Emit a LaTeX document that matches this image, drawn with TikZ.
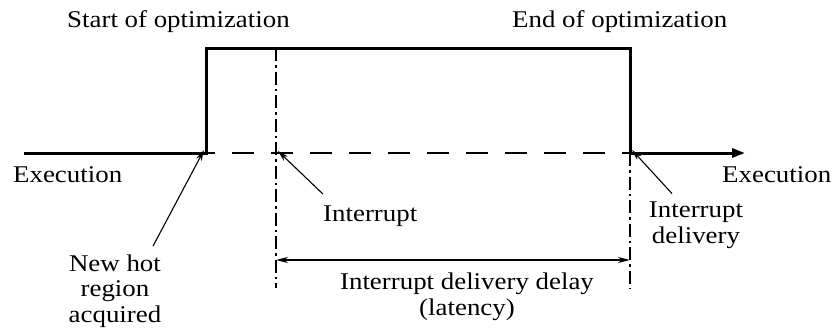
\documentclass[tikz,border=0pt]{standalone}
\usepackage{fontspec}
\setmainfont{Liberation Serif}[FakeStretch=1.12]
\usetikzlibrary{arrows.meta}

\begin{document}
\begin{tikzpicture}[x=1pt,y=-1pt,
  lbl/.style={font=\fontsize{24}{25.5}\selectfont, inner sep=0pt, align=center},
  wave/.style={line width=3pt},
  dashline/.style={line width=2pt, dash pattern=on 22pt off 17pt, dash phase=13pt},
  guide/.style={line width=1.6pt, dash pattern=on 13pt off 4pt on 2.5pt off 4pt},
  pointer/.style={line width=1.1pt, -{Stealth[length=11pt,width=6pt]}},
  span/.style={line width=2pt, {Stealth[length=12pt,width=6pt]}-{Stealth[length=12pt,width=6pt]}}]
  \useasboundingbox (0,0) rectangle (833,330);
  % Time axis and optimization window
  \coordinate (t0)   at (24,153);
  \coordinate (rise) at (206,153);
  \coordinate (rtop) at (206,48);
  \coordinate (ftop) at (630,48);
  \coordinate (fall) at (630,153);
  \coordinate (tend) at (745,153);
  \coordinate (irqtop) at (276,48);
  \coordinate (irq)    at (276,153);
  \coordinate (irqlow) at (276,288);
  \coordinate (fallow) at (630,288);
  \coordinate (dl) at (276,260);
  \coordinate (dr) at (630,260);

  \draw[dashline] (rise) -- (fall);
  \draw[guide] (irqtop) -- (irqlow);
  \draw[guide] (fall) -- (fallow);
  \draw[wave, line join=miter] (t0) -- (rise) -- (rtop) -- (ftop) -- (fall);
  \draw[wave, -{Triangle[length=13pt,width=9pt]}] (fall) -- (tend);

  % Labels (multi-line ones sit on their last baseline)
  \node[lbl, anchor=base west] (start) at (67,27) {Start of optimization};
  \node[lbl, anchor=base west] (stop) at (512,27) {End of optimization};
  \node[lbl, anchor=base west] (execl) at (13,182) {Execution};
  \node[lbl, anchor=base west] (execr) at (722,182) {Execution};
  \node[lbl, anchor=base] (hot) at (115,322) {New hot\\region\\acquired};
  \node[lbl, anchor=base west] (intr) at (323,221) {Interrupt};
  \node[lbl, anchor=base] (deliv) at (696,243) {Interrupt\\delivery};
  \node[lbl, anchor=base] (lat) at (467,315) {Interrupt delivery delay\\(latency)};

  % Pointers
  \draw[pointer] ([xshift=38pt,yshift=8pt]hot.north) -- ([xshift=-2pt,yshift=3pt]rise);
  \draw[pointer] ([yshift=11pt]intr.north west) -- ([xshift=2pt,yshift=2pt]irq);
  \draw[pointer] ([xshift=-24pt,yshift=8pt]deliv.north) -- ([xshift=2pt,yshift=3pt]fall);
  \draw[span] (dl) -- (dr);
\end{tikzpicture}
\end{document}
